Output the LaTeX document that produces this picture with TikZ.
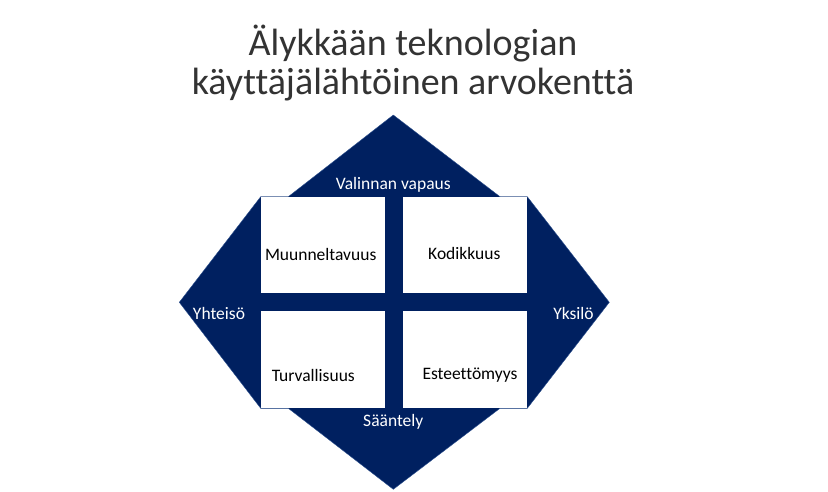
\documentclass[tikz,border=0pt]{standalone}
\usepackage{fontspec}
\setmainfont{Carlito}[Ligatures=NoCommon]
\definecolor{navy}{HTML}{002060}
\definecolor{edge}{HTML}{2F528F}
\begin{document}
\begin{tikzpicture}[x=1pt,y=-1pt,
  lab/.style={font=\fontsize{17.5}{20}\selectfont, text=black, inner sep=0pt},
  wlab/.style={lab, text=white},
  quad/.style={fill=white}]
\useasboundingbox (0,0) rectangle (828,491);
% diamond body
\fill[navy, draw=edge, line width=0.4pt]
  (393.3,115) -- (500,196.7) -- (527.3,196.7) -- (609.3,302.3) -- (527.3,408.3)
  -- (500,408.3) -- (393.3,489.3) -- (288.3,408.3) -- (260.7,408.3)
  -- (179.3,302.3) -- (260.7,196.7) -- (288.3,196.7) -- cycle;
% white quadrants
\fill[quad] (260.7,196.7) rectangle (385,293.3);
\fill[quad] (402.7,196.7) rectangle (527.3,293.3);
\fill[quad] (260.7,311.3) rectangle (385,408.3);
\fill[quad] (402.7,311.3) rectangle (527.3,408.3);
% title
\node[font=\fontsize{38}{38.5}\selectfont, align=center, text=black!80, inner sep=0pt] (title) at (413,63)
  {Älykkään teknologian\\käyttäjälähtöinen arvokenttä};
% labels
\node[wlab] (vv) at (393.3,185) {Valinnan vapaus};
\node[wlab] (sa) at (393.3,421.5) {Sääntely};
\node[wlab] (yh) at (219,313.5) {Yhteisö};
\node[wlab] (yk) at (573.5,313.5) {Yksilö};
\node[lab] (mu) at (320.7,254.3) {Muunneltavuus};
\node[lab] (ko) at (464.3,253.5) {Kodikkuus};
\node[lab] (tu) at (313.3,375) {Turvallisuus};
\node[lab] (es) at (470,375) {Esteettömyys};
\end{tikzpicture}
\end{document}
